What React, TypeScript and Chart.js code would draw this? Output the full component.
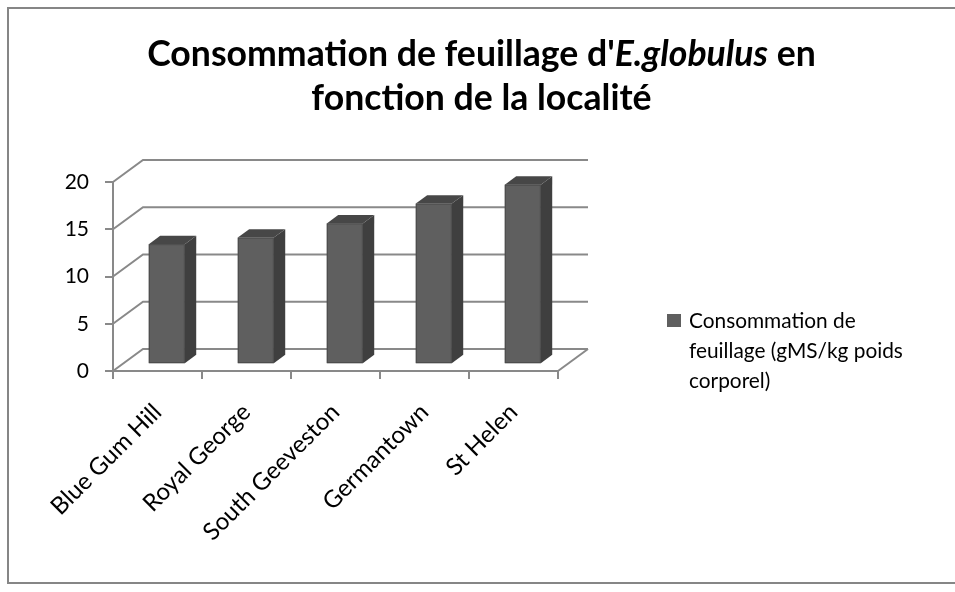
import React, { useEffect, useRef } from "react";
import { Chart, registerables } from "chart.js";

Chart.register(...registerables);

const categories = ["Blue Gum Hill", "Royal George", "South Geeveston", "Germantown", "St Helen"];
const consumption = [12.7, 13.4, 14.9, 17.0, 19.0];
const yTickValues = [0, 5, 10, 15, 20];
const legendLines = ["Consommation de", "feuillage (gMS/kg poids", "corporel)"];
const titleSegments = [
  { text: "Consommation de feuillage d'", italic: false },
  { text: "E.globulus", italic: true },
  { text: " en", italic: false },
];
const titleLine2 = "fonction de la localité";

const FONT = "Lato, 'Open Sans', sans-serif";
const GRID = "#898989";
const DX = 30;
const DY = -22;
const FRONT = 0.31;
const BACK = 0.69;

const threeD = {
  id: "threeD",
  beforeDraw(chart: any) {
    const ctx = chart.ctx;
    ctx.save();
    ctx.fillStyle = "#fff";
    ctx.fillRect(0, 0, chart.width, chart.height);
    ctx.strokeStyle = "#868686";
    ctx.lineWidth = 2;
    ctx.strokeRect(8, 8, 960, 575);
    ctx.restore();
  },
  beforeDatasetsDraw(chart: any) {
    const ctx = chart.ctx;
    const { left, right, bottom } = chart.chartArea;
    const ys = chart.scales.y;
    ctx.save();
    ctx.strokeStyle = GRID;
    ctx.lineWidth = 2;
    for (const v of yTickValues) {
      const y = ys.getPixelForValue(v);
      ctx.beginPath();
      ctx.moveTo(left, y);
      ctx.lineTo(left + DX, y + DY);
      ctx.lineTo(right + DX, y + DY);
      ctx.stroke();
    }
    ctx.beginPath();
    ctx.moveTo(right, bottom);
    ctx.lineTo(right + DX, bottom + DY);
    ctx.stroke();

    const meta = chart.getDatasetMeta(0);
    const ddx = (BACK - FRONT) * DX;
    const ddy = (BACK - FRONT) * DY;
    meta.data.forEach((el: any) => {
      const p = el.getProps(["x", "y", "base", "width"], true);
      const x0 = p.x - p.width / 2 + FRONT * DX;
      const x1 = x0 + p.width;
      const top = p.y + FRONT * DY;
      const bot = p.base + FRONT * DY;
      ctx.fillStyle = "#3f3f3f";
      ctx.beginPath();
      ctx.moveTo(x1, top);
      ctx.lineTo(x1 + ddx, top + ddy);
      ctx.lineTo(x1 + ddx, bot + ddy);
      ctx.lineTo(x1, bot);
      ctx.closePath();
      ctx.fill();
      ctx.fillStyle = "#474747";
      ctx.beginPath();
      ctx.moveTo(x0, top);
      ctx.lineTo(x0 + ddx, top + ddy);
      ctx.lineTo(x1 + ddx, top + ddy);
      ctx.lineTo(x1, top);
      ctx.closePath();
      ctx.fill();
      ctx.fillStyle = "#5f5f5f";
      ctx.fillRect(x0, top, p.width, bot - top);
      ctx.strokeStyle = "#4a4a4a";
      ctx.lineWidth = 1;
      ctx.strokeRect(x0 + 0.5, top + 0.5, p.width - 1, bot - top - 1);
    });
    ctx.restore();
  },
  afterDraw(chart: any) {
    const ctx = chart.ctx;
    ctx.save();
    const fontFor = (size: number, italic: boolean) =>
      `${italic ? "italic " : ""}bold ${size}px ${FONT}`;
    let w100 = 0;
    for (const s of titleSegments) {
      ctx.font = fontFor(100, s.italic);
      w100 += ctx.measureText(s.text).width;
    }
    const tSize = (100 * 669) / w100;
    let total = 0;
    const widths: number[] = [];
    for (const s of titleSegments) {
      ctx.font = fontFor(tSize, s.italic);
      const w = ctx.measureText(s.text).width;
      widths.push(w);
      total += w;
    }
    const cx = 481.5;
    let x = cx - total / 2;
    ctx.fillStyle = "#000";
    ctx.textBaseline = "alphabetic";
    ctx.textAlign = "left";
    titleSegments.forEach((s, i) => {
      ctx.font = fontFor(tSize, s.italic);
      ctx.fillText(s.text, x, 66);
      x += widths[i];
    });
    ctx.font = fontFor(tSize, false);
    ctx.textAlign = "center";
    ctx.fillText(titleLine2, cx, 110);

    ctx.font = `100px ${FONT}`;
    const lw = ctx.measureText(legendLines[1]).width;
    const lSize = (100 * 214) / lw;
    ctx.fillStyle = "#5f5f5f";
    ctx.fillRect(667, 314, 14, 13);
    ctx.fillStyle = "#000";
    ctx.textAlign = "left";
    ctx.textBaseline = "middle";
    ctx.font = `${lSize}px ${FONT}`;
    legendLines.forEach((l, i) => ctx.fillText(l, 689, 321 + i * 30));
    ctx.restore();
  },
};

export default function App() {
  const ref = useRef<HTMLCanvasElement>(null);
  useEffect(() => {
    if (!ref.current) return;
    const chart = new Chart(ref.current, {
      type: "bar",
      data: {
        labels: categories,
        datasets: [
          {
            label: legendLines.join(" "),
            data: consumption,
            backgroundColor: "rgba(0,0,0,0)",
            borderWidth: 0,
            categoryPercentage: 1,
            barPercentage: 0.405,
          },
        ],
      },
      options: {
        responsive: false,
        devicePixelRatio: 1,
        animation: false,
        events: [],
        layout: { padding: { left: 0, top: 182, right: 955 - 558, bottom: 0 } },
        plugins: { legend: { display: false }, tooltip: { enabled: false }, title: { display: false } },
        scales: {
          x: {
            offset: true,
            grid: { display: true, drawOnChartArea: false, drawTicks: true, tickLength: 8, color: GRID, lineWidth: 2, offset: true },
            border: { display: true, color: GRID, width: 2 },
            ticks: { color: "#000", font: { family: FONT, size: 24 }, minRotation: 45, maxRotation: 45, autoSkip: false, padding: 19 },
            afterFit: (s: any) => {
              s.height = 592 - 371;
            },
          },
          y: {
            min: 0,
            max: 20,
            grid: { display: true, drawOnChartArea: false, drawTicks: true, tickLength: 8, color: GRID, lineWidth: 2 },
            border: { display: true, color: GRID, width: 2 },
            ticks: { stepSize: 5, color: "#000", font: { family: FONT, size: 21 }, padding: 16 },
            afterFit: (s: any) => {
              s.width = 113;
            },
          },
        },
      },
      plugins: [threeD],
    });
    return () => chart.destroy();
  }, []);
  return (
    <canvas
      ref={ref}
      width={955}
      height={592}
      style={{ position: "absolute", left: 0, top: 0, width: 955, height: 592 }}
    />
  );
}
